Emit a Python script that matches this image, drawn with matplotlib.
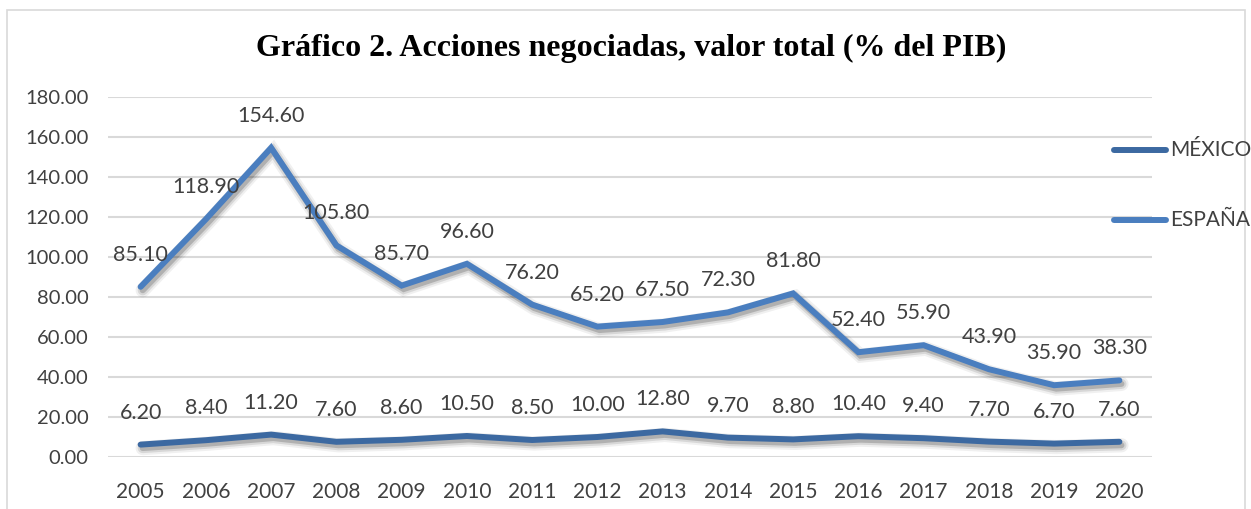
import matplotlib
matplotlib.use("Agg")
import matplotlib.pyplot as plt
import matplotlib.patheffects as pe
from matplotlib.lines import Line2D
from matplotlib.patches import Rectangle

years = ["2005", "2006", "2007", "2008", "2009", "2010", "2011", "2012",
         "2013", "2014", "2015", "2016", "2017", "2018", "2019", "2020"]
mexico = [6.2, 8.4, 11.2, 7.6, 8.6, 10.5, 8.5, 10.0, 12.8, 9.7, 8.8, 10.4, 9.4, 7.7, 6.7, 7.6]
espana = [85.1, 118.9, 154.6, 105.8, 85.7, 96.6, 76.2, 65.2, 67.5, 72.3, 81.8, 52.4, 55.9, 43.9, 35.9, 38.3]
yticks = [0, 20, 40, 60, 80, 100, 120, 140, 160, 180]
title = "Gráfico 2. Acciones negociadas, valor total (% del PIB)"
series_names = ["MÉXICO", "ESPAÑA"]

col_mx = "#3C69A1"
col_es = "#4A7EBF"
txt = "#404040"
font = "Lato"

W, H = 1251, 509
fig = plt.figure(figsize=(W / 100, H / 100), dpi=100)
ax = fig.add_axes([108 / W, 52 / H, (1152 - 108) / W, (457 - 97) / H])

x = list(range(len(years)))
lw = 4.3
shadow = [
    pe.SimpleLineShadow(offset=(1.5, -2.5), shadow_color="k", alpha=0.06, linewidth=lw + 6),
    pe.SimpleLineShadow(offset=(1.5, -2.5), shadow_color="k", alpha=0.10, linewidth=lw + 3),
    pe.SimpleLineShadow(offset=(1.5, -2.5), shadow_color="k", alpha=0.18, linewidth=lw),
    pe.Normal(),
]

for vals, col in [(mexico, col_mx), (espana, col_es)]:
    ax.plot(x, vals, color=col, lw=lw, solid_capstyle="round",
            solid_joinstyle="miter", path_effects=shadow, zorder=3)
    for xi, v in zip(x, vals):
        ax.annotate(f"{v:.2f}", (xi, v), xytext=(0, 23), textcoords="offset points",
                    ha="center", va="center", fontsize=15.5, color=txt,
                    fontfamily=font, zorder=4)

ax.set_xlim(-0.5, len(years) - 0.5)
ax.set_ylim(0, 180)
ax.set_yticks(yticks)
ax.set_yticklabels([f"{t:.2f}" for t in yticks])
ax.set_xticks(x)
ax.set_xticklabels(years)
ax.grid(axis="y", color="#d9d9d9", lw=1.5, zorder=0)
ax.set_axisbelow(True)
for s in ax.spines.values():
    s.set_visible(False)
ax.tick_params(axis="both", length=0, labelcolor=txt)
ax.tick_params(axis="y", pad=14, labelsize=14.5)
ax.tick_params(axis="x", pad=18, labelsize=15)
for lab in ax.get_xticklabels() + ax.get_yticklabels():
    lab.set_fontfamily(font)

fig.text(631 / W, 1 - 48 / H, title, ha="center", va="center",
         fontsize=23, fontweight="bold", fontfamily="Liberation Serif", color="black")

# legend
for name, col, yy in [(series_names[0], col_mx, 150), (series_names[1], col_es, 220)]:
    fy = 1 - yy / H
    fig.add_artist(Line2D([1114 / W, 1166 / W], [fy, fy], color=col, lw=lw,
                          solid_capstyle="round"))
    fig.text(1170 / W, fy, name, ha="left", va="center", fontsize=15,
             color=txt, fontfamily=font)

# chart border
fig.add_artist(Rectangle((7 / W, -0.05), (1245 - 7) / W, 1 - 10 / H + 0.05,
                         transform=fig.transFigure, fill=False,
                         edgecolor="#d9d9d9", lw=1.2))

fig.savefig("out.png", dpi=100)
